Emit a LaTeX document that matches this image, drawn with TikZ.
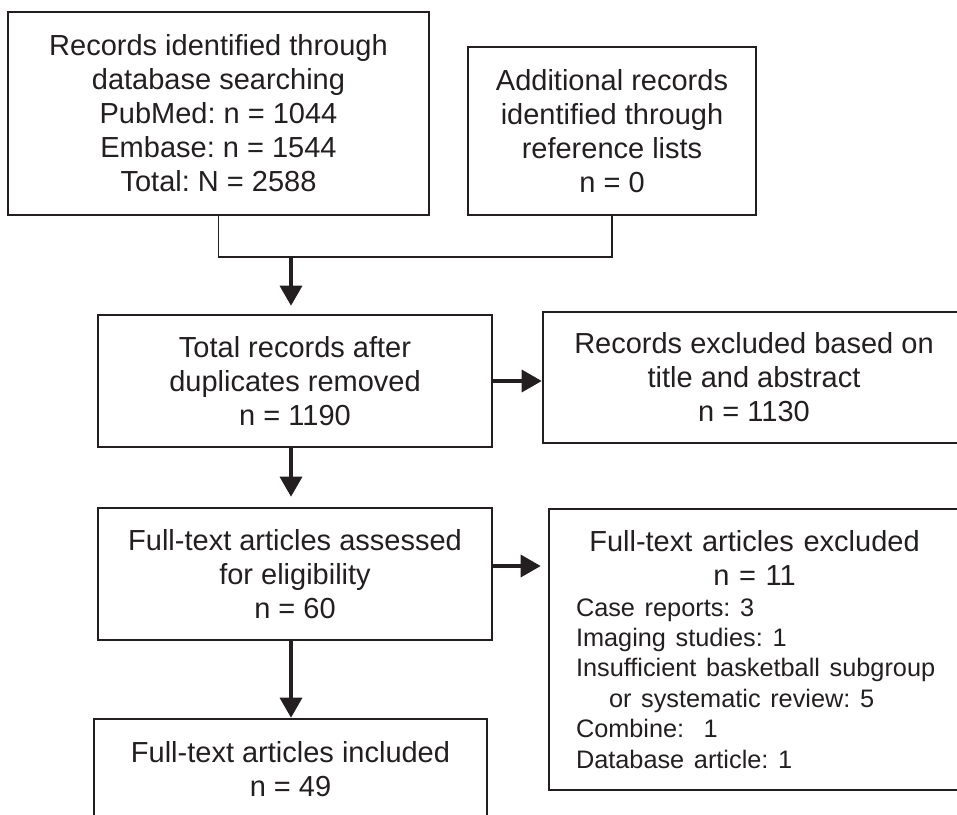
\documentclass[tikz,border=0pt]{standalone}
\usepackage{fontspec}
\setmainfont{Liberation Sans}
\usetikzlibrary{arrows.meta}
\definecolor{ink}{HTML}{231F20}
\frenchspacing

\begin{document}
\begin{tikzpicture}[
        x=0.5pt, y=-0.5pt,
        box/.style={draw=ink, line width=1.3pt, inner sep=0pt, align=center, text=ink, font=\fontsize{14.5}{17}\selectfont},
        link/.style={draw=ink, line width=0.7pt},
        arrow/.style={draw=ink, line width=1.7pt, -{Triangle[length=10pt, width=11pt]}}
    ]
        \useasboundingbox (0,0) rectangle (957,814);

        \node[box, minimum width=210.5pt, minimum height=101.5pt] (src) at (218.5,113.5) {Records identified through\\database searching\\PubMed: n = 1044\\Embase: n = 1544\\Total: N = 2588};
        \node[box, minimum width=144pt, minimum height=84pt] (extra) at (612,131) {Additional records\\identified through\\reference lists\\n = 0};
        \node[box, minimum width=197pt, minimum height=66pt] (dedup) at (295,381) {Total records after\\duplicates removed\\n = 1190};
        \node[box, minimum width=211pt, minimum height=65.5pt] (screenx) at (754,377.5) {Records excluded based on\\title and abstract\\n = 1130};
        \node[box, minimum width=197pt, minimum height=66pt] (fulltext) at (295,574) {Full-text articles assessed\\for eligibility\\n = 60};
        \node[box, align=left, text width=205.5pt, minimum height=140.5pt] (ftx) at (754.5,649.5) {%
            {\centering Full-text articles excluded\\ n = 11\par}
            {\fontsize{12.65}{15.2}\selectfont\raggedright\leftskip=13.5pt
            Case reports: 3\\
            Imaging studies: 1\\
            Insufficient basketball subgroup\\
            \hspace*{16.5pt}or systematic review: 5\\
            Combine: \ 1\\
            Database article: 1\par}};
        \node[box, minimum width=196.5pt, minimum height=50.5pt] (included) at (290.5,769.5) {Full-text articles included\\n = 49};

        \coordinate (join) at (291,257);

        \draw[link] (src.south) |- (extra.south |- join) -- (extra.south);
        \draw[arrow, shorten >=4pt] (join) -- (join |- dedup.north);

        \draw[arrow] (dedup.east) -- (dedup.east -| screenx.west);
        \draw[arrow, shorten >=5pt] (join |- dedup.south) -- (join |- fulltext.north);

        \draw[arrow, shorten >=3.5pt] ([yshift=4pt]fulltext.east) -- ([yshift=4pt]fulltext.east -| ftx.west);
        \draw[arrow] (join |- fulltext.south) -- (join |- included.north);

    \end{tikzpicture}
\end{document}
